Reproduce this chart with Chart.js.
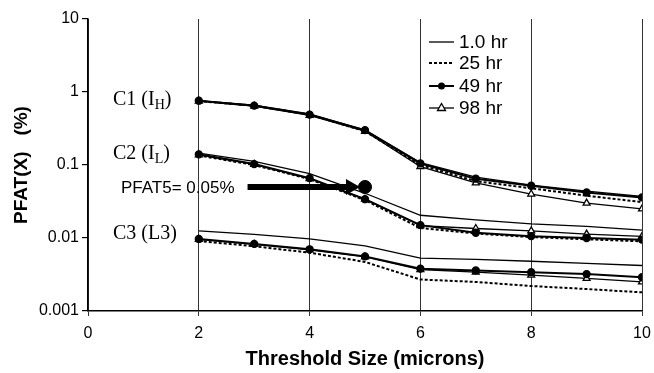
<!DOCTYPE html>
<html>
<head>
<meta charset="utf-8">
<script src="https://cdn.jsdelivr.net/npm/chart.js@4/dist/chart.umd.min.js"></script>
<style>
    html, body {margin: 0; padding: 0; background: #fff;}
    #wrap {width: 654px; height: 373px; position: relative;}
</style>
</head>
<body>
<div id="wrap"><canvas id="pfatChart" width="654" height="373"></canvas></div>
<script>
// ====== Data ======
const THRESHOLDS = [2, 3, 4, 5, 6, 7, 8, 9, 10];
const SERIES_LABELS = ["1.0 hr", "25 hr", "49 hr", "98 hr"];
const Y_TICKS = [0.001, 0.01, 0.1, 1, 10];
const X_TICKS = [0, 2, 4, 6, 8, 10];

// C1 (I_H)
const C1_1HR  = [0.76, 0.66, 0.50, 0.30, 0.108, 0.068, 0.053, 0.044, 0.037];
const C1_25HR = [0.75, 0.65, 0.49, 0.29, 0.100, 0.060, 0.048, 0.038, 0.031];
const C1_49HR = [0.76, 0.65, 0.49, 0.30, 0.105, 0.065, 0.052, 0.042, 0.036];
const C1_98HR = [0.75, 0.64, 0.48, 0.29, 0.095, 0.057, 0.040, 0.030, 0.025];
// C2 (I_L)
const C2_1HR  = [0.145, 0.112, 0.076, 0.041, 0.0205, 0.0177, 0.0156, 0.0144, 0.0128];
const C2_25HR = [0.135, 0.100, 0.064, 0.033, 0.0137, 0.0115, 0.0103, 0.0096, 0.0090];
const C2_49HR = [0.140, 0.103, 0.066, 0.034, 0.0150, 0.0118, 0.0106, 0.0100, 0.0095];
const C2_98HR = [0.138, 0.102, 0.065, 0.034, 0.0148, 0.0135, 0.0125, 0.0113, 0.0105];
// C3 (L3)
const C3_1HR  = [0.0125, 0.0112, 0.0097, 0.0078, 0.0053, 0.0051, 0.0048, 0.0045, 0.0042];
const C3_25HR = [0.0091, 0.0077, 0.0063, 0.0047, 0.0027, 0.0025, 0.0022, 0.0020, 0.0018];
const C3_49HR = [0.0097, 0.0083, 0.0070, 0.0056, 0.0038, 0.0036, 0.0034, 0.0032, 0.0029];
const C3_98HR = [0.0096, 0.0082, 0.0069, 0.0055, 0.0037, 0.0034, 0.0031, 0.0028, 0.0025];

// PFAT5 annotation
const PFAT5_LABEL = "PFAT5= 0.05%";
const PFAT5_X = [5];
const PFAT5_Y = [0.05];
const ARROW_START_X = 2.88;

// ====== Styles per series ======
const SERIES_STYLES = [
    {borderWidth: 1.3, borderDash: [], pointStyle: false, pointRadius: 0},
    {borderWidth: 2, borderDash: [3, 2], pointStyle: false, pointRadius: 0},
    {borderWidth: 2, borderDash: [], pointStyle: 'circle', pointRadius: 3.5, pointBackgroundColor: '#000'},
    {borderWidth: 1.3, borderDash: [], pointStyle: 'triangle', pointRadius: 4, pointBackgroundColor: '#fff'}
];

function toPoints(values) {
    return THRESHOLDS.map((x, i) => ({x: x, y: values[i]}));
}

const groups = [
    [C1_1HR, C1_25HR, C1_49HR, C1_98HR],
    [C2_1HR, C2_25HR, C2_49HR, C2_98HR],
    [C3_1HR, C3_25HR, C3_49HR, C3_98HR]
];

const datasets = [];
groups.forEach((group, g) => {
    group.forEach((values, s) => {
        const st = SERIES_STYLES[s];
        datasets.push({
            label: SERIES_LABELS[s],
            data: toPoints(values),
            borderColor: '#000',
            borderWidth: st.borderWidth,
            borderDash: st.borderDash,
            pointStyle: st.pointStyle,
            pointRadius: st.pointRadius,
            pointBorderColor: '#000',
            pointBorderWidth: 1.3,
            pointBackgroundColor: st.pointBackgroundColor || '#000',
            tension: 0,
            fill: false
        });
    });
});
// big dot for PFAT5
datasets.push({
    label: 'PFAT5',
    data: PFAT5_X.map((x, i) => ({x: x, y: PFAT5_Y[i]})),
    showLine: false,
    pointStyle: 'circle',
    pointRadius: 6.5,
    pointBackgroundColor: '#000',
    pointBorderColor: '#000',
    borderColor: '#000'
});

// ---- Text, legend and arrow overlay ----
const overlayPlugin = {
    id: 'overlay',
    afterDatasetsDraw(chart) {
        const ctx = chart.ctx;
        const xs = chart.scales.x, ys = chart.scales.y;
        ctx.save();
        ctx.fillStyle = '#000';
        ctx.strokeStyle = '#000';

        // group labels (serif, with subscript)
        const serif = '"Liberation Serif", "Times New Roman", serif';
        function groupLabel(x, y, main, sub, tail) {
            ctx.font = '20px ' + serif;
            ctx.textBaseline = 'alphabetic';
            ctx.textAlign = 'left';
            ctx.fillText(main, x, y);
            let w = ctx.measureText(main).width;
            if (sub) {
                ctx.font = '14px ' + serif;
                ctx.fillText(sub, x + w, y + 4);
                w += ctx.measureText(sub).width;
                ctx.font = '20px ' + serif;
            }
            ctx.fillText(tail, x + w, y);
        }
        groupLabel(113, 105, 'C1 (I', 'H', ')');
        groupLabel(113, 159, 'C2 (I', 'L', ')');
        groupLabel(113, 239, 'C3 (L3', '', ')');

        // PFAT5 text and arrow
        const py = ys.getPixelForValue(PFAT5_Y[0]);
        const px = xs.getPixelForValue(PFAT5_X[0]);
        ctx.font = '17px "Liberation Sans", Arial, sans-serif';
        ctx.textBaseline = 'middle';
        ctx.fillText(PFAT5_LABEL, 121, py + 1);
        const x0 = xs.getPixelForValue(ARROW_START_X);
        const tip = px - 5;
        ctx.lineWidth = 6;
        ctx.beginPath();
        ctx.moveTo(x0, py);
        ctx.lineTo(tip - 12, py);
        ctx.stroke();
        ctx.beginPath();
        ctx.moveTo(tip - 14, py - 8);
        ctx.lineTo(tip, py);
        ctx.lineTo(tip - 14, py + 8);
        ctx.closePath();
        ctx.fill();

        // legend
        const rows = [42, 63, 86, 108];
        ctx.font = '19px "Liberation Sans", Arial, sans-serif';
        ctx.textBaseline = 'middle';
        SERIES_LABELS.forEach((label, i) => {
            const st = SERIES_STYLES[i];
            const y = rows[i];
            ctx.lineWidth = st.borderWidth;
            ctx.setLineDash(st.borderDash);
            ctx.beginPath();
            ctx.moveTo(429, y);
            ctx.lineTo(454, y);
            ctx.stroke();
            ctx.setLineDash([]);
            if (st.pointStyle === 'circle') {
                ctx.beginPath();
                ctx.arc(441.5, y, 3.5, 0, Math.PI * 2);
                ctx.fill();
            } else if (st.pointStyle === 'triangle') {
                ctx.lineWidth = 1.3;
                ctx.fillStyle = '#fff';
                ctx.beginPath();
                ctx.moveTo(441.5, y - 4.5);
                ctx.lineTo(445.5, y + 2.5);
                ctx.lineTo(437.5, y + 2.5);
                ctx.closePath();
                ctx.fill();
                ctx.stroke();
                ctx.fillStyle = '#000';
            }
            ctx.fillText(label, 459, y + 1);
        });
        ctx.restore();
    }
};

new Chart(document.getElementById('pfatChart'), {
    type: 'line',
    data: {datasets},
    plugins: [overlayPlugin],
    options: {
        responsive: false,
        animation: false,
        layout: {padding: {top: 19, right: 12, left: 0, bottom: 0}},
        plugins: {legend: {display: false}, tooltip: {enabled: false}},
        scales: {
            x: {
                type: 'linear',
                min: 0,
                max: 10,
                afterBuildTicks: scale => { scale.ticks = X_TICKS.map(v => ({value: v})); },
                afterFit: scale => {
                    scale.height = 62;
                    scale.paddingLeft = 0;
                    scale.paddingRight = 0;
                },
                ticks: {color: '#000', font: {size: 16, family: '"Liberation Sans", Arial'}, padding: 8},
                grid: {color: '#333', lineWidth: 1, tickLength: 5, drawOnChartArea: true},
                border: {color: '#000', width: 1.5},
                title: {
                    display: true,
                    text: 'Threshold Size (microns)',
                    color: '#000',
                    font: {size: 20, weight: 'bold', family: '"Liberation Sans", Arial'},
                    padding: {top: 0, bottom: 2}
                }
            },
            y: {
                type: 'logarithmic',
                min: 0.001,
                max: 10,
                afterBuildTicks: scale => { scale.ticks = Y_TICKS.map(v => ({value: v})); },
                afterFit: scale => {
                    scale.width = 88;
                    scale.paddingTop = 0;
                    scale.paddingBottom = 0;
                },
                ticks: {
                    color: '#000',
                    font: {size: 16, family: '"Liberation Sans", Arial'},
                    padding: 3,
                    callback: v => String(v)
                },
                grid: {color: '#000', lineWidth: 1.2, tickLength: 6, drawOnChartArea: false},
                border: {color: '#000', width: 1.5},
                title: {
                    display: true,
                    text: 'PFAT(X)   (%)',
                    color: '#000',
                    font: {size: 19, weight: 'bold', family: '"Liberation Sans", Arial'},
                    padding: {top: 10, bottom: 0}
                }
            }
        }
    }
});
</script>
</body>
</html>
